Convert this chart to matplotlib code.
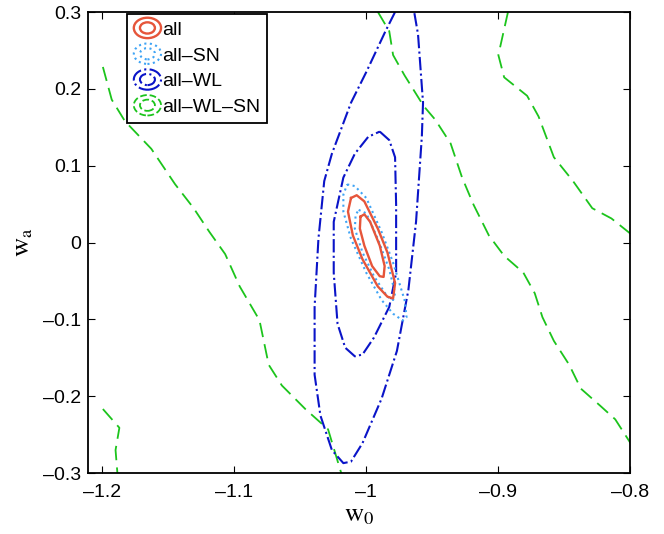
import matplotlib
matplotlib.use('Agg')
import matplotlib.pyplot as plt
from matplotlib.patches import Ellipse
from matplotlib.legend_handler import HandlerBase
from matplotlib.lines import Line2D
from matplotlib.ticker import FuncFormatter
import numpy as np

# contour paths: (w0, wa) pairs
# "all" (red, solid) - two closed loops
all_inner_w0 = [-1.0044, -1.0015, -0.9971, -0.9898, -0.9861, -0.9869, -0.9898, -0.9956, -1.0015, -1.0049]
all_inner_wa = [0.0337, 0.0368, 0.027, -0.004, -0.0306, -0.0447, -0.0438, -0.0306, -0.004, 0.0182]
all_outer_w0 = [-1.0116, -1.0073, -1.0015, -0.9913, -0.984, -0.9782, -0.9797, -0.984, -0.9913, -1.0029, -1.0102, -1.0139]
all_outer_wa = [0.058, 0.0616, 0.0536, 0.0182, -0.0128, -0.0527, -0.0726, -0.0704, -0.0571, -0.0217, 0.0093, 0.0403]

# "all-SN" (light blue, dotted)
sn_inner_w0 = [-1.0058, -1.0, -0.9913, -0.9826, -0.9782, -0.9797, -0.984, -0.9942, -1.0029, -1.0087, -1.0081]
sn_inner_wa = [0.0425, 0.0381, 0.0049, -0.035, -0.066, -0.0748, -0.0704, -0.0438, -0.0128, 0.018, 0.0359]
sn_outer_w0 = [-1.0145, -1.0087, -1.0, -0.9884, -0.9797, -0.971, -0.9695, -0.9724, -0.9797, -0.9884, -1.0, -1.0116, -1.0174, -1.0174]
sn_outer_wa = [0.0757, 0.0735, 0.058, 0.0137, -0.0261, -0.0748, -0.097, -0.1014, -0.0926, -0.0748, -0.0394, 0.0049, 0.0403, 0.0624]

# "all-WL" (blue, dash-dot)
wl_inner_w0 = [-0.9898, -0.9826, -0.9782, -0.9774, -0.9774, -0.9826, -0.9942, -1.0029, -1.0087, -1.016, -1.0218, -1.0247, -1.0247, -1.0174, -1.0087, -0.9985]
wl_inner_wa = [0.1444, 0.1333, 0.111, 0.049, -0.0394, -0.0837, -0.1236, -0.1457, -0.148, -0.1368, -0.1058, -0.0394, 0.027, 0.0846, 0.1156, 0.1377]
wl_outer_w0 = [-0.9782, -0.9855, -1.0, -1.0116, -1.0261, -1.0319, -1.0363, -1.0392, -1.0392, -1.0348, -1.0261, -1.0174, -1.0116,
               -1.0029, -0.9884, -0.9768, -0.9681, -0.9623, -0.9579, -0.957, -0.9608, -0.9637]
wl_outer_wa = [0.300, 0.275, 0.222, 0.182, 0.1156, 0.080, 0.0049, -0.0837, -0.172, -0.225, -0.270, -0.287, -0.285,
               -0.261, -0.203, -0.141, -0.0616, 0.027, 0.138, 0.182, 0.271, 0.300]

# "all-WL-SN" (green, dashed) - inner band edges and outer pieces
wlsn_left_w0 = [-1.1997, -1.193, -1.183, -1.163, -1.145, -1.131, -1.119, -1.107, -1.096, -1.081, -1.074, -1.064, -1.046, -1.029, -1.019]
wlsn_left_wa = [0.2285, 0.186, 0.158, 0.122, 0.076, 0.045, 0.014, -0.015, -0.057, -0.101, -0.159, -0.186, -0.217, -0.243, -0.300]
wlsn_mid_w0 = [-0.9913, -0.9826, -0.9797, -0.971, -0.9565, -0.9478, -0.9361, -0.9274, -0.9187, -0.9071, -0.8955, -0.881,
               -0.8723, -0.8665, -0.8578, -0.8462, -0.8374, -0.8229, -0.8113, -0.7997]
wlsn_mid_wa = [0.3003, 0.275, 0.244, 0.2175, 0.1776, 0.160, 0.129, 0.0846, 0.0492, 0.0093, -0.0173, -0.039,
               -0.066, -0.097, -0.128, -0.159, -0.190, -0.212, -0.230, -0.261]
wlsn_right_w0 = [-0.8926, -0.8999, -0.8955, -0.8781, -0.8694, -0.8578, -0.8433, -0.8287, -0.8142, -0.7997]
wlsn_right_wa = [0.300, 0.244, 0.215, 0.191, 0.164, 0.111, 0.080, 0.0447, 0.0314, 0.0115]
wlsn_corner_w0 = [-1.1997, -1.1872, -1.1901, -1.1887]
wlsn_corner_wa = [-0.2166, -0.241, -0.270, -0.300]

labels = ['all', 'all\u2013SN', 'all\u2013WL', 'all\u2013WL\u2013SN']
colors = ['#e6553a', '#3fa4f5', '#0a14c8', '#1cc41c']
styles = ['-', ':', '-.', (0, (8, 4))]
widths = [1.7, 1.5, 1.5, 1.3]

plt.rcParams['mathtext.fontset'] = 'stix'
plt.rcParams['font.family'] = ['Liberation Sans', 'DejaVu Sans']
plt.rcParams['axes.unicode_minus'] = False

fig = plt.figure(figsize=(6.64, 5.34), dpi=100)
ax = fig.add_axes([0.1325, 0.114, 0.8165, 0.8635])


def closed(x, y):
    return list(x) + [x[0]], list(y) + [y[0]]


def draw(x, y, k, close=True):
    if close:
        x, y = closed(x, y)
    ax.plot(x, y, color=colors[k], linestyle=styles[k], linewidth=widths[k])


draw(wlsn_left_w0, wlsn_left_wa, 3, False)
draw(wlsn_mid_w0, wlsn_mid_wa, 3, False)
draw(wlsn_right_w0, wlsn_right_wa, 3, False)
draw(wlsn_corner_w0, wlsn_corner_wa, 3, False)
draw(wl_outer_w0, wl_outer_wa, 2, False)
draw(wl_inner_w0, wl_inner_wa, 2)
draw(sn_outer_w0, sn_outer_wa, 1)
draw(sn_inner_w0, sn_inner_wa, 1)
draw(all_outer_w0, all_outer_wa, 0)
draw(all_inner_w0, all_inner_wa, 0)

ax.set_xlim(-1.211, -0.8)
ax.set_ylim(-0.3, 0.3)
ax.set_xticks([-1.2, -1.1, -1.0, -0.9, -0.8])
ax.set_yticks([-0.3, -0.2, -0.1, 0, 0.1, 0.2, 0.3])


def fmt(v, pos):
    s = '%g' % round(v, 3)
    if s in ('0', '-0'):
        return '0'
    return s.replace('-', '\u2013')


ax.xaxis.set_major_formatter(FuncFormatter(fmt))
ax.yaxis.set_major_formatter(FuncFormatter(fmt))
ax.tick_params(direction='in', top=True, right=True, length=5, width=0.8, labelsize=14)
ax.tick_params(axis='x', pad=8)
ax.tick_params(axis='y', pad=5)
for s in ax.spines.values():
    s.set_linewidth(1.3)

ax.set_xlabel(r'$\mathrm{w}_0$', fontsize=19, labelpad=1)
ax.set_ylabel(r'$\mathrm{w}_\mathrm{a}$', fontsize=19, labelpad=6)


# legend icon: two concentric ellipses like the MATLAB contour legend
class EllipseHandler(HandlerBase):
    def create_artists(self, legend, orig, xd, yd, w, h, fs, trans):
        ln = orig
        cx, cy = xd + w / 2, yd + h / 2
        out = []
        for sc in (1.0, 0.55):
            e = Ellipse((cx, cy), w * sc, h * 1.5 * sc, fill=False,
                        edgecolor=ln.get_color(), linestyle=ln.get_linestyle(),
                        linewidth=ln.get_linewidth(), transform=trans)
            out.append(e)
        return out


handles = [Line2D([], [], color=colors[k], linestyle=styles[k], linewidth=widths[k]) for k in range(4)]
leg = ax.legend(handles, labels, loc='upper left', bbox_to_anchor=(0.072, 0.995),
                handler_map={Line2D: EllipseHandler()}, fontsize=14,
                handlelength=1.4, handletextpad=0.05, labelspacing=0.42,
                borderpad=0.35, borderaxespad=0.0, fancybox=False, framealpha=1)
leg.get_frame().set_edgecolor('black')
leg.get_frame().set_linewidth(1.3)

fig.savefig('out.png', dpi=100)
